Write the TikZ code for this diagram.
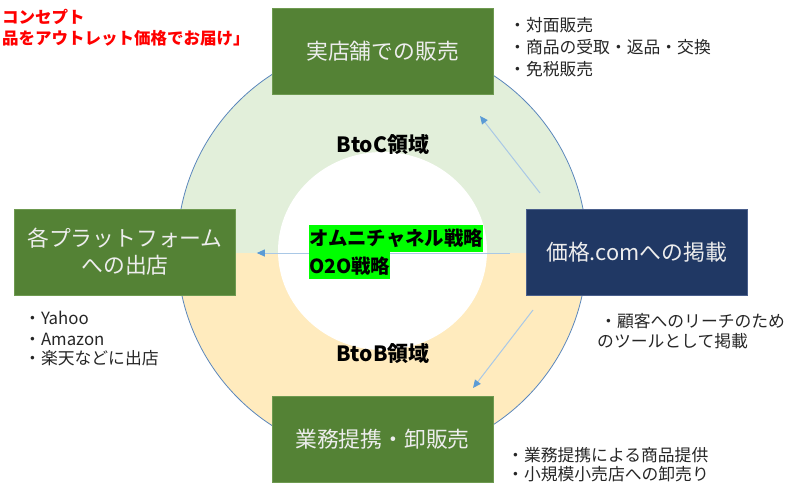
\documentclass[tikz,border=0pt]{standalone}
\usepackage{fontspec}
\setmainfont{Noto Sans CJK JP}
\usetikzlibrary{arrows.meta}
\definecolor{boxgreen}{HTML}{548235}
\definecolor{boxgreenline}{HTML}{6E9A50}
\definecolor{navy}{HTML}{203864}
\definecolor{navyline}{HTML}{4A5F8C}
\definecolor{ringgreen}{HTML}{E2EFDA}
\definecolor{ringyellow}{HTML}{FFEBBE}
\definecolor{ringline}{HTML}{5B87BC}
\definecolor{arrowline}{HTML}{A9C8E6}
\definecolor{arrowhead}{HTML}{5B9BD5}
\definecolor{hl}{HTML}{00FF00}
\definecolor{txt}{HTML}{262626}
\definecolor{boxtxt}{HTML}{EDEDED}
\begin{document}
\begin{tikzpicture}[x=1pt,y=-1pt,
  gbox/.style={fill=boxgreen, draw=boxgreenline, line width=0.6pt, minimum width=221pt, minimum height=86pt, inner sep=0pt, text=boxtxt, font=\fontsize{21.8}{27}\selectfont, align=center},
  nbox/.style={gbox, fill=navy, draw=navyline},
  bullet/.style={anchor=west, inner sep=0pt, text=txt, font=\fontsize{16.8}{21}\selectfont},
  redtxt/.style={anchor=west, inner sep=0pt, text=red, font=\fontsize{16.5}{21}\selectfont\bfseries},
  area/.style={inner sep=0pt, text=black, font=\fontsize{21}{25}\selectfont\bfseries},
  hilite/.style={anchor=north west, fill=hl, inner xsep=0pt, inner ysep=0pt, minimum height=27pt, text=black, font=\fontsize{19.4}{24}\selectfont\bfseries},
  flow/.style={draw=arrowline, line width=1pt, -{Triangle[length=8pt, width=7pt, color=arrowhead]}}
]
\useasboundingbox (0,0) rectangle (789,484);

% ring
\begin{scope}
  \clip (0,0) rectangle (789,253);
  \fill[ringgreen] (382,250) ellipse [x radius=205, y radius=208];
\end{scope}
\begin{scope}
  \clip (0,253) rectangle (789,484);
  \fill[ringyellow] (382,250) ellipse [x radius=205, y radius=208];
\end{scope}
\fill[white] (382.5,251) ellipse [x radius=104.5, y radius=99];
\draw[ringline, line width=0.8pt] (382,250) ellipse [x radius=205, y radius=208];

% boxes
\node[gbox] (store) at (382.5,51) {実店舗での販売};
\node[gbox] (b2b) at (382.5,439.5) {業務提携・卸販売};
\node[gbox] (platform) at (125,252) {各プラットフォーム\\への出店};
\node[nbox] (kakaku) at (636.5,252) {価格.comへの掲載};

% arrows
\coordinate (a1s) at (540,193);
\coordinate (a1e) at (480,116);
\coordinate (a2s) at (533,310);
\coordinate (a2e) at (473,388);
\draw[flow] (a1s) -- (a1e);
\draw[flow] (a2s) -- (a2e);
\draw[flow, shorten <=16pt, shorten >=21pt] ([yshift=-1pt]kakaku.west) -- ([yshift=-1pt]platform.east);

% area labels
\node[area] (btoc) at (383,145) {BtoC領域};
\node[area] (btob) at (383,354) {BtoB領域};

% highlighted strategy
\node[hilite] (omni) at (309,225) {オムニチャネル戦略};
\node[hilite] (o2o) at (309,252) {O2O戦略};

% concept (red)
\node[redtxt] (c1) at (2,17) {コンセプト};
\node[redtxt] (c2) at (2,38) {品をアウトレット価格でお届け」};

% bullets
\node[bullet] (s1) at (509,25) {・対面販売};
\node[bullet] (s2) at (509,47) {・商品の受取・返品・交換};
\node[bullet] (s3) at (509,69) {・免税販売};

\node[bullet] (p1) at (24,318) {・Yahoo};
\node[bullet] (p2) at (24,339) {・Amazon};
\node[bullet] (p3) at (24,358) {・楽天などに出店};

\node[bullet] (k1) at (600,321) {・顧客へのリーチのため};
\node[bullet] (k2) at (597,341) {のツールとして掲載};

\node[bullet] (w1) at (507,455) {・業務提携による商品提供};
\node[bullet] (w2) at (507,474) {・小規模小売店への卸売り};
\end{tikzpicture}
\end{document}
